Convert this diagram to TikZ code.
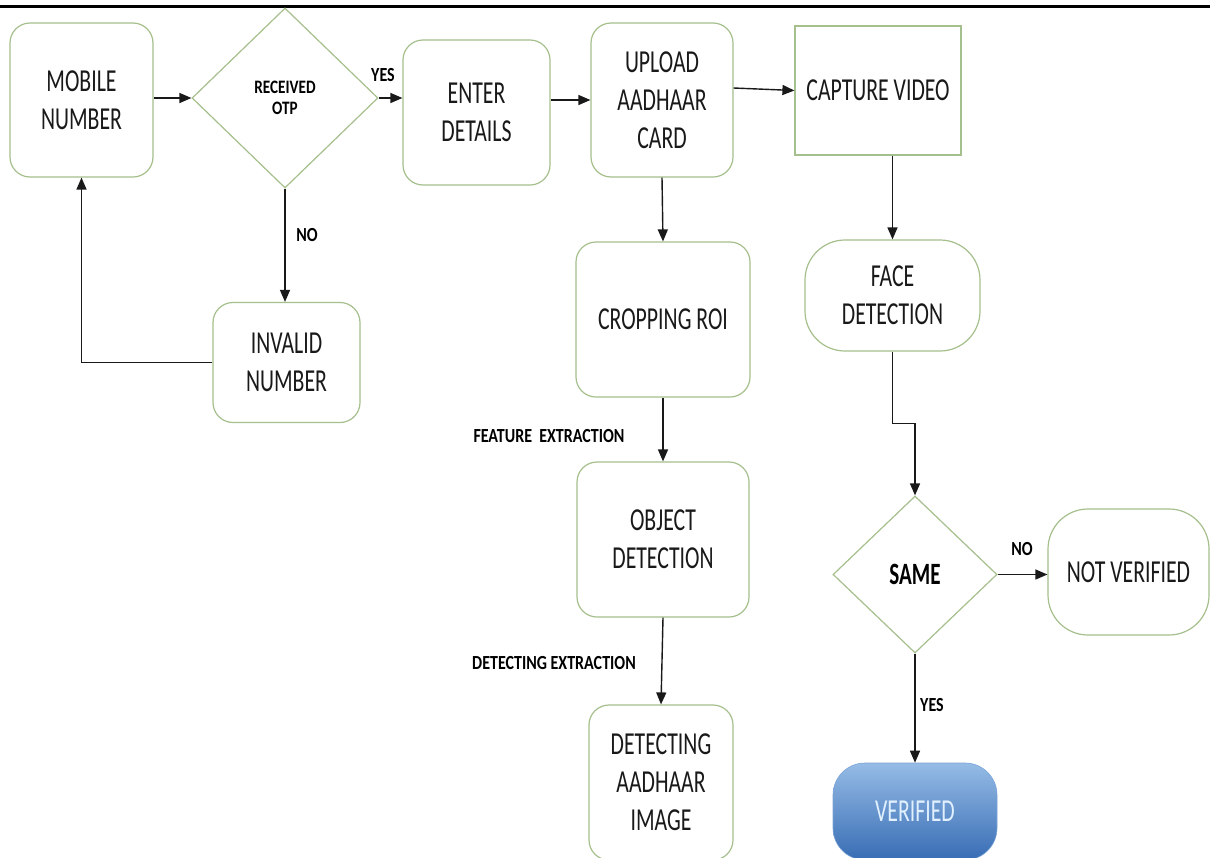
\documentclass[tikz,border=0pt]{standalone}
\usepackage{fontspec}
\usetikzlibrary{shapes.geometric,arrows.meta,calc}
\newfontfamily\nodefont[FakeStretch=0.68]{Carlito}
\newfontfamily\lblfont[FakeStretch=0.8]{Carlito Bold}
\newfontfamily\samefont[FakeStretch=0.68]{Carlito Bold}
\definecolor{boxgreen}{RGB}{165,192,140}
\definecolor{vtop}{RGB}{150,188,230}
\definecolor{vbot}{RGB}{55,108,180}
\definecolor{vtext}{RGB}{225,240,255}
\definecolor{linec}{RGB}{25,25,25}
\tikzset{
  boxnode/.style={draw=boxgreen, line width=1.2pt, rounded corners=20pt, inner sep=0pt,
    align=center, text=black!90, font=\nodefont\fontsize{32}{38}\selectfont},
  decnode/.style={diamond, draw=boxgreen, line width=1.2pt, inner sep=0pt, align=center,
    text=black, font=\lblfont\fontsize{19}{21}\selectfont},
  lbl/.style={inner sep=0pt, text=black, font=\lblfont\fontsize{20}{22}\selectfont},
  conn/.style={draw=linec, line width=1.4pt, -{Triangle[length=12pt,width=10pt]}},
  plainconn/.style={draw=linec, line width=1.4pt}
}
\begin{document}
\begin{tikzpicture}[x=1pt,y=-1pt]
\useasboundingbox (0,0) rectangle (1210,857);
\fill[white] (0,0) rectangle (1210,857);
\begin{scope}
\clip (0,0) rectangle (1210,857);
% header rule
\draw[line width=3pt, black] (0,6) -- (1210,6);

% nodes
\node[boxnode, minimum width=143pt, minimum height=154pt] (mobile) at (81.5,100) {MOBILE\\NUMBER};
\node[decnode, minimum width=186pt, minimum height=180pt] (otp) at (285,98) {RECEIVED\\OTP};
\node[boxnode, minimum width=147pt, minimum height=145pt] (enter) at (476.5,112.5) {ENTER\\DETAILS};
\node[boxnode, minimum width=142pt, minimum height=154pt] (upload) at (662,100) {UPLOAD\\AADHAAR\\CARD};
\node[boxnode, rounded corners=0pt, minimum width=166pt, minimum height=129pt] (capture) at (878,90.5) {CAPTURE VIDEO};
\node[boxnode, minimum width=147pt, minimum height=120pt] (invalid) at (286.5,362.5) {INVALID\\NUMBER};
\node[boxnode, minimum width=174pt, minimum height=155pt] (crop) at (663,319.5) {CROPPING ROI};
\node[boxnode, minimum width=172pt, minimum height=155pt] (object) at (663,539.5) {OBJECT\\DETECTION};
\node[boxnode, minimum width=144pt, minimum height=155pt] (detect) at (661,782.5) {DETECTING\\AADHAAR\\IMAGE};
\node[boxnode, rounded corners=40pt, minimum width=175pt, minimum height=111pt] (face) at (892.5,295.5) {FACE\\DETECTION};
\node[decnode, minimum width=164pt, minimum height=157pt, font=\samefont\fontsize{31}{33}\selectfont] (same) at (915,574.5) {SAME};
\node[boxnode, rounded corners=40pt, minimum width=161pt, minimum height=126pt] (notver) at (1128.5,572) {NOT VERIFIED};
\node[boxnode, draw=vtop!70!vbot, line width=0.6pt, rounded corners=32pt, minimum width=164pt, minimum height=97pt,
      top color=vtop, bottom color=vbot, text=vtext] (verified) at (915,811.5) {VERIFIED};

% connectors
\draw[conn] (mobile.east |- otp.west) -- (otp.west);
\draw[conn] (otp.east) -- (otp.east -| enter.west);
\draw[conn] (upload.west -| enter.east) -- (upload.west);
\draw[conn] ($(upload.east)+(0,-12)$) -- (capture.west);
\draw[conn] (otp.south) -- (otp.south |- invalid.north);
\draw[conn] (invalid.west) -| (mobile.south);
\draw[conn] (upload.south) -- (crop.north);
\draw[conn] (crop.south) -- (object.north);
\draw[conn] (object.south) -- (detect.north);
\draw[conn] (face.north |- capture.south) -- (face.north);
\draw[conn] (face.south) -- ++(0,72) -| (same.north);
\draw[conn] (same.east) -- (same.east -| notver.west);
\draw[conn] (same.south) -- (verified.north);

% labels
\node[lbl] (yes1) at (383,75) {YES};
\node[lbl] (no1) at (307,235) {NO};
\node[lbl] (feat) at (549,436) {FEATURE\ \ EXTRACTION};
\node[lbl] (dext) at (554,663) {DETECTING EXTRACTION};
\node[lbl] (no2) at (1022,549) {NO};
\node[lbl] (yes2) at (932,705) {YES};
\end{scope}
\end{tikzpicture}
\end{document}
